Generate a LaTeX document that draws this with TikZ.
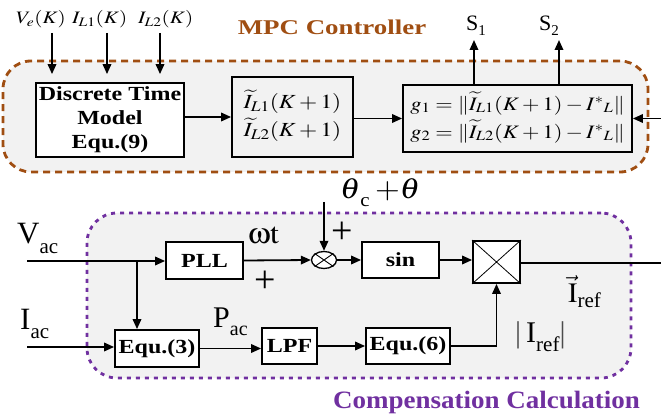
\documentclass[tikz,border=0pt]{standalone}
\usepackage{mathptmx}
\usepackage{graphicx}
\usepackage{fontspec}
\setmainfont{Liberation Serif}
\newfontfamily\titlefont{Liberation Serif Bold}
\newcommand\tms{\usefont{OT1}{ptm}{m}{n}}
\newcommand\symom{{\usefont{U}{psy}{m}{n}\char119}}
\usetikzlibrary{arrows.meta,shapes.geometric}
\definecolor{mpcbrown}{RGB}{160,78,18}
\definecolor{cmpurple}{RGB}{112,48,160}
\definecolor{bggray}{RGB}{242,242,242}
\newcommand\hs[2][1.2]{\scalebox{#1}[1]{#2}}
\newcommand\lowsub[3]{\raisebox{-#1}{\fontsize{#2}{#2}\selectfont #3}}
\begin{document}
\begin{tikzpicture}[x=1pt,y=-1pt,
  arr/.style={line width=1.8pt,-{Triangle[length=10pt,width=8.5pt]}},
  ln/.style={line width=1.8pt},
  blk/.style={draw,line width=1.8pt,fill=white,inner sep=0pt},
  bxt/.style={font=\fontsize{20}{24}\selectfont\titlefont},
  lbl/.style={inner sep=0pt,anchor=base west},
  plus/.style={inner sep=0pt,font=\fontsize{38}{38}\selectfont}]
\useasboundingbox (0,0) rectangle (661,414);
% containers
\node[draw=mpcbrown,line width=2.8pt,dash pattern=on 7pt off 5pt,fill=bggray,rounded corners=28pt,
  minimum width=645pt,minimum height=111pt,inner sep=0pt] (mpcbox) at (325.5,116.5) {};
\node[draw=cmpurple,line width=2.8pt,dash pattern=on 4pt off 5pt,fill=bggray,rounded corners=30pt,
  minimum width=544pt,minimum height=165pt,inner sep=0pt] (cmpbox) at (359,295.5) {};
% titles
\node[inner sep=0pt,font=\fontsize{21}{24}\selectfont\titlefont,text=mpcbrown] (mpct) at (332,27) {\hs[1.28]{MPC Controller}};
\node[lbl,font=\fontsize{25}{28}\selectfont\titlefont,text=cmpurple] (cmpt) at (333,408) {\hs[1.08]{Compensation Calculation}};
% MPC blocks
\node[blk,bxt,minimum width=148pt,minimum height=74pt] (dtm) at (110,120)
  {\hs{\begin{tabular}{@{}c@{}}Discrete Time\\Model\\Equ.(9)\end{tabular}}};
\node[blk,fill=bggray,minimum width=121pt,minimum height=80pt,font=\fontsize{20}{28}\selectfont] (pred) at (292.5,117)
  {\hs[1.17]{\begin{tabular}{@{}l@{}}$\widetilde{I}_{L1}(K+1)$\\$\widetilde{I}_{L2}(K+1)$\end{tabular}}};
\node[blk,fill=bggray,minimum width=229pt,minimum height=67pt,font=\fontsize{19}{28}\selectfont] (cost) at (517.5,118.5)
  {\hs[1.18]{\begin{tabular}{@{}l@{}}$g_1=\|\widetilde{I}_{L1}(K+1)-I^{*}{}_{L}\|$\\$g_2=\|\widetilde{I}_{L2}(K+1)-I^{*}{}_{L}\|$\end{tabular}}};
% MPC inputs
\node[lbl,font=\fontsize{17.5}{18}\selectfont] (lve) at (16,24) {\hs[1.2]{$V_e(K)$}};
\node[lbl,font=\fontsize{17.5}{18}\selectfont] (li1) at (72,24) {\hs[1.2]{$I_{L1}(K)$}};
\node[lbl,font=\fontsize{17.5}{18}\selectfont] (li2) at (138,24) {\hs[1.2]{$I_{L2}(K)$}};
\coordinate (in1) at (52,33);
\coordinate (in2) at (107,33);
\coordinate (in3) at (160,33);
\draw[arr,shorten >=8pt] (in1) -- (in1 |- dtm.north);
\draw[arr,shorten >=8pt] (in2) -- (in2 |- dtm.north);
\draw[arr,shorten >=8pt] (in3) -- (in3 |- dtm.north);
\draw[arr] (dtm.east |- pred.west) -- (pred.west);
\draw[arr] (pred.east |- cost.west) -- (cost.west);
% outputs S1 S2
\coordinate (s1c) at (474,40);
\coordinate (s2c) at (559,40);
\node[inner sep=0pt,font=\fontsize{22}{24}\selectfont] (s1l) at (476,26) {S\lowsub{5pt}{15}{1}};
\node[inner sep=0pt,font=\fontsize{22}{24}\selectfont] (s2l) at (549,26) {S\lowsub{5pt}{15}{2}};
\draw[arr] (s1c |- cost.north) -- (s1c);
\draw[arr] (s2c |- cost.north) -- (s2c);
\coordinate (rin) at (661,118.5);
\draw[arr] (rin) -- (cost.east);
% compensation blocks
\node[blk,bxt,minimum width=77pt,minimum height=37pt] (pll) at (204.5,260.5) {\hs{PLL}};
\node[blk,bxt,minimum width=77pt,minimum height=36pt] (sinb) at (400.5,260) {\hs{sin}};
\node[blk,minimum width=47pt,minimum height=42pt] (mult) at (496.5,262) {};
\draw[line width=0.8pt] (mult.north west) -- (mult.south east) (mult.north east) -- (mult.south west);
\node[draw,ellipse,line width=1.3pt,fill=white,minimum width=25pt,minimum height=17pt,inner sep=0pt] (ox) at (324,260) {};
\draw[line width=0.9pt] (ox.north west) -- (ox.south east) (ox.north east) -- (ox.south west);
\node[blk,bxt,minimum width=84pt,minimum height=37pt] (eq3) at (157,348.5) {\hs{Equ.(3)}};
\node[blk,bxt,minimum width=55pt,minimum height=36pt] (lpf) at (289.5,346) {\hs{LPF}};
\node[blk,bxt,minimum width=84pt,minimum height=36pt] (eq6) at (408,346) {\hs{Equ.(6)}};
% labels
\node[lbl,font=\fontsize{31}{34}\selectfont] (vac) at (17,243) {V\lowsub{10pt}{21}{ac}};
\node[lbl,font=\fontsize{31}{34}\selectfont] (iac) at (20,329) {I\lowsub{9pt}{21}{ac}};
\node[lbl,font=\fontsize{30}{34}\selectfont] (pac) at (213,327) {P\lowsub{8pt}{20}{ac}};
\node[lbl,font=\fontsize{29}{30}\selectfont] (wt) at (248,243) {\hs[1.1]{\symom{\tms t}}};
\node[lbl,font=\fontsize{29}{30}\selectfont] (th) at (340,199) {\hs[1.1]{$\theta$\lowsub{8pt}{19}{c}\,$+\theta$}};
\node[plus] (p1) at (265,282) {+};
\node[plus] (p2) at (342,233) {+};
\node[lbl,font=\fontsize{28}{30}\selectfont] (iref) at (568,302) {$\vec{\mathrm{I}}$\lowsub{5pt}{21}{ref}};
\node[lbl,font=\fontsize{30}{32}\selectfont] (irefm) at (515,342) {\textcolor{black!70}{|}\,I\lowsub{9pt}{21}{ref}\textcolor{black!70}{|}};
% connectors
\coordinate (vin) at (27,261);
\coordinate (iin) at (27,347);
\coordinate (br) at (137,261);
\coordinate (thin) at (324,202);
\coordinate (outr) at (661,263);
\draw[arr] (vin) -- (vin -| pll.west);
\draw[arr] (br) -- (br |- eq3.north);
\draw[arr] (iin) -- (iin -| eq3.west);
\draw[arr] (pll.east) -- (ox.west);
\draw[arr] (thin) -- (ox.north);
\draw[arr] (ox.east) -- (ox.east -| sinb.west);
\draw[arr] (sinb.east) -- (sinb.east -| mult.west);
\draw[ln] (mult.east |- outr) -- (outr);
\draw[arr] (eq3.east) -- (eq3.east -| lpf.west);
\draw[arr] (lpf.east) -- (lpf.east -| eq6.west);
\draw[arr] (eq6.east) -| (mult.south);
\end{tikzpicture}
\end{document}
